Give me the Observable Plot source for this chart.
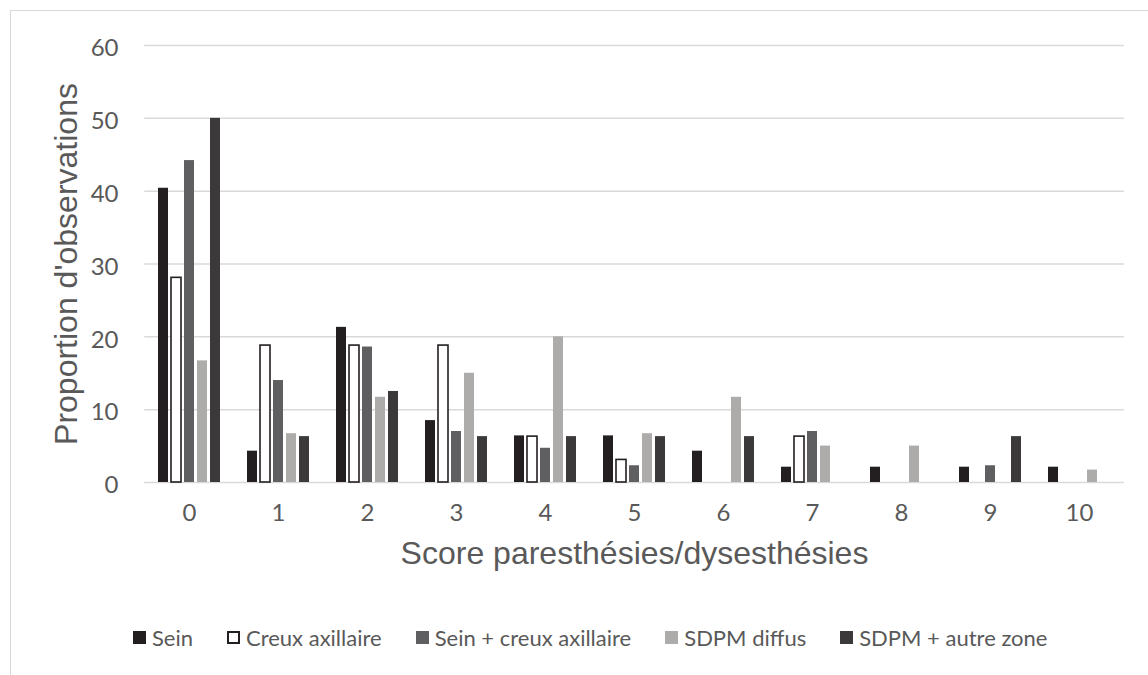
<!DOCTYPE html>
<html>
<head>
<meta charset="utf-8">
<script src="https://cdn.jsdelivr.net/npm/d3@7"></script>
<script src="https://cdn.jsdelivr.net/npm/@observablehq/plot@0.6"></script>
<style>
  html, body { margin: 0; padding: 0; background: #fff; width: 1148px; height: 675px; overflow: hidden; }
  #frame { position: absolute; left: 10px; top: 10px; width: 1300px; height: 900px; border: 1.5px solid #d9d9d9; box-sizing: border-box; }
  #chart { position: absolute; left: 0; top: 0; }
  #legend { position: absolute; left: 133px; top: 624px; display: flex; align-items: center; gap: 34px;
            font-family: Lato, "Liberation Sans", sans-serif; font-size: 22px; color: #595959; }
  .item { display: flex; align-items: center; gap: 6px; }
  .sw { width: 13px; height: 13px; box-sizing: border-box; }
</style>
</head>
<body>
<div id="frame"></div>
<div id="chart"></div>
<div id="legend"></div>
<script>
// Data (proportion d'observations, %)
const scores = [0, 1, 2, 3, 4, 5, 6, 7, 8, 9, 10];
const seriesNames = ["Sein", "Creux axillaire", "Sein + creux axillaire", "SDPM diffus", "SDPM + autre zone"];
const sein       = [40.4, 4.3, 21.3, 8.5, 6.4, 6.4, 4.3, 2.1, 2.1, 2.1, 2.1];
const creux      = [28.1, 18.8, 18.8, 18.8, 6.3, 3.1, 0, 6.3, 0, 0, 0];
const seinCreux  = [44.2, 14.0, 18.6, 7.0, 4.7, 2.3, 0, 7.0, 0, 2.3, 0];
const sdpmDiffus = [16.7, 6.7, 11.7, 15.0, 20.0, 6.7, 11.7, 5.0, 5.0, 0, 1.7];
const sdpmAutre  = [50.0, 6.3, 12.5, 6.3, 6.3, 6.3, 6.3, 0, 0, 6.3, 0];
const yTicks = [0, 10, 20, 30, 40, 50, 60];
const fills   = ["#231f20", "#ffffff", "#5f5f61", "#aeabab", "#3b393a"];
const strokes = ["none", "#231f20", "none", "none", "none"];

const seriesValues = [sein, creux, seinCreux, sdpmDiffus, sdpmAutre];
const data = [];
scores.forEach((s, i) => {
  seriesNames.forEach((name, k) => {
    const v = seriesValues[k][i];
    if (v > 0) data.push({score: s, series: name, value: v});
  });
});

const plot = Plot.plot({
  width: 1148,
  height: 600,
  marginLeft: 141,
  marginRight: 21,
  marginTop: 45,
  marginBottom: 118,
  style: {fontFamily: "Lato, 'Liberation Sans', sans-serif", fontSize: "24px", background: "transparent", color: "#595959"},
  fx: {domain: scores, paddingInner: 0.262, paddingOuter: 0.131, axis: null, label: null},
  x: {domain: seriesNames, paddingInner: 0.2, paddingOuter: 0, axis: null},
  y: {domain: [0, 60], axis: null},
  color: {domain: seriesNames, range: fills},
  marks: [
    Plot.ruleY(yTicks, {stroke: "#d9d9d9", strokeWidth: 1.5, insetLeft: -11.73, insetRight: -11.73}),
    Plot.barY(data, {
      fx: "score", x: "series", y: "value",
      fill: "series",
      stroke: d => strokes[seriesNames.indexOf(d.series)],
      strokeWidth: 1.6
    }),
    Plot.axisFx({anchor: "bottom", tickSize: 0, tickPadding: 21, fontSize: 24, fill: "#595959", label: null}),
    Plot.axisY({ticks: yTicks, anchor: "left", tickSize: 0, tickPadding: 38, fontSize: 24, fill: "#595959", label: null, dy: 3}),
    Plot.text(["Score paresthésies/dysesthésies"], {facet: "super", frameAnchor: "bottom", dy: 81,
      fontFamily: "'Liberation Sans', Arial, sans-serif", fontSize: 32, fill: "#595959"}),
    Plot.text(["Proportion d'observations"], {facet: "super", frameAnchor: "left", textAnchor: "middle", dx: -90, rotate: -90,
      fontFamily: "'Liberation Sans', Arial, sans-serif", fontSize: 32, fill: "#595959"})
  ]
});
document.getElementById("chart").appendChild(plot);

// Legend
const legend = document.getElementById("legend");
seriesNames.forEach((name, k) => {
  const item = document.createElement("div");
  item.className = "item";
  const sw = document.createElement("div");
  sw.className = "sw";
  sw.style.background = fills[k];
  if (strokes[k] !== "none") sw.style.border = "2px solid " + strokes[k];
  const t = document.createElement("span");
  t.textContent = name;
  item.appendChild(sw);
  item.appendChild(t);
  legend.appendChild(item);
});
</script>
</body>
</html>
